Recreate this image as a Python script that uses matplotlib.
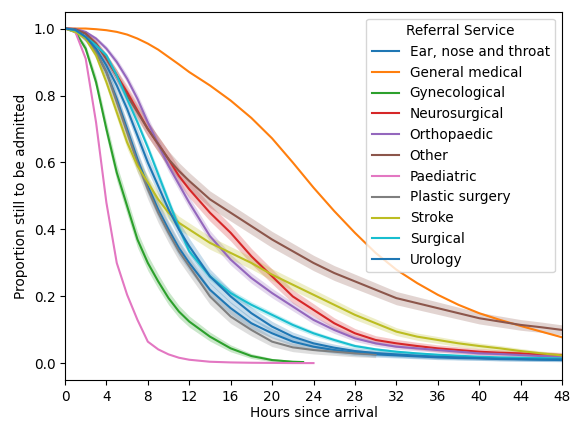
import numpy as np
import matplotlib
matplotlib.use("Agg")
import matplotlib.pyplot as plt

# ---- data ----
hours_full = [0, 1, 2, 3, 4, 5, 6, 7, 8, 9, 10, 11, 12, 14, 16, 18, 20, 22, 24,
              26, 28, 30, 32, 34, 36, 38, 40, 42, 44, 46, 48]
hours_paed = [0, 1, 2, 3, 4, 5, 6, 7, 8, 9, 10, 11, 12, 14, 16, 18, 20, 22, 24]
hours_gyn = [0, 1, 2, 3, 4, 5, 6, 7, 8, 9, 10, 11, 12, 14, 16, 18, 20, 22, 23]
hours_plastic = [0, 1, 2, 3, 4, 5, 6, 7, 8, 9, 10, 11, 12, 14, 16, 18, 20, 22, 24,
                 26, 28, 30]

ent = [1.0, 0.995, 0.97, 0.93, 0.87, 0.79, 0.70, 0.61, 0.53, 0.46, 0.40, 0.345, 0.30,
       0.22, 0.165, 0.12, 0.09, 0.065, 0.05, 0.04, 0.032, 0.027, 0.024, 0.021, 0.018,
       0.016, 0.015, 0.013, 0.012, 0.011, 0.010]
general_medical = [1.0, 1.0, 1.0, 0.998, 0.995, 0.99, 0.982, 0.97, 0.955, 0.937, 0.915,
                   0.893, 0.87, 0.83, 0.785, 0.733, 0.672, 0.60, 0.525, 0.455, 0.39,
                   0.33, 0.28, 0.24, 0.205, 0.175, 0.15, 0.13, 0.112, 0.095, 0.078]
gynecological = [1.0, 0.99, 0.94, 0.84, 0.70, 0.57, 0.47, 0.37, 0.30, 0.245, 0.195,
                 0.155, 0.125, 0.08, 0.045, 0.022, 0.010, 0.005, 0.004]
neurosurgical = [1.0, 0.998, 0.985, 0.955, 0.91, 0.86, 0.81, 0.755, 0.70, 0.655, 0.61,
                 0.56, 0.52, 0.45, 0.39, 0.32, 0.26, 0.20, 0.16, 0.12, 0.09, 0.07,
                 0.06, 0.052, 0.045, 0.04, 0.035, 0.032, 0.03, 0.027, 0.025]
orthopaedic = [1.0, 0.999, 0.99, 0.97, 0.94, 0.90, 0.85, 0.79, 0.72, 0.655, 0.59,
               0.535, 0.48, 0.38, 0.31, 0.255, 0.21, 0.17, 0.13, 0.10, 0.075, 0.06,
               0.05, 0.045, 0.04, 0.035, 0.03, 0.028, 0.025, 0.022, 0.02]
other = [1.0, 0.998, 0.985, 0.955, 0.91, 0.86, 0.80, 0.75, 0.70, 0.655, 0.61, 0.575,
         0.545, 0.49, 0.45, 0.41, 0.37, 0.335, 0.30, 0.27, 0.245, 0.22, 0.195, 0.18,
         0.165, 0.15, 0.135, 0.125, 0.115, 0.108, 0.10]
paediatric = [1.0, 0.99, 0.91, 0.72, 0.48, 0.30, 0.205, 0.13, 0.065, 0.042, 0.027,
              0.017, 0.011, 0.005, 0.003, 0.002, 0.0015, 0.001, 0.001]
plastic_surgery = [1.0, 0.995, 0.97, 0.93, 0.87, 0.78, 0.69, 0.60, 0.52, 0.45, 0.39,
                   0.335, 0.29, 0.20, 0.14, 0.10, 0.065, 0.048, 0.04, 0.035, 0.03, 0.027]
stroke = [1.0, 0.99, 0.97, 0.92, 0.84, 0.75, 0.66, 0.59, 0.54, 0.49, 0.45, 0.42, 0.40,
          0.36, 0.33, 0.30, 0.265, 0.235, 0.205, 0.175, 0.145, 0.12, 0.095, 0.08,
          0.07, 0.06, 0.052, 0.045, 0.037, 0.03, 0.024]
surgical = [1.0, 0.995, 0.975, 0.95, 0.92, 0.86, 0.79, 0.72, 0.645, 0.565, 0.485,
            0.405, 0.335, 0.26, 0.21, 0.175, 0.145, 0.115, 0.09, 0.07, 0.052, 0.042,
            0.035, 0.03, 0.026, 0.023, 0.02, 0.018, 0.017, 0.016, 0.015]
urology = [1.0, 0.996, 0.975, 0.94, 0.89, 0.83, 0.76, 0.68, 0.60, 0.53, 0.46, 0.40,
           0.35, 0.26, 0.20, 0.15, 0.11, 0.08, 0.06, 0.047, 0.037, 0.031, 0.027,
           0.023, 0.02, 0.018, 0.016, 0.014, 0.013, 0.012, 0.012]

labels = ["Ear, nose and throat", "General medical", "Gynecological", "Neurosurgical",
          "Orthopaedic", "Other", "Paediatric", "Plastic surgery", "Stroke",
          "Surgical", "Urology"]
series = [(hours_full, ent), (hours_full, general_medical), (hours_gyn, gynecological),
          (hours_full, neurosurgical), (hours_full, orthopaedic), (hours_full, other),
          (hours_paed, paediatric), (hours_plastic, plastic_surgery),
          (hours_full, stroke), (hours_full, surgical), (hours_full, urology)]
ci_scale = [0.05, 0.004, 0.05, 0.05, 0.035, 0.05, 0.004, 0.06, 0.04, 0.025, 0.05]

x_ticks = list(range(0, 49, 4))

# ---- plot ----
plt.rcParams['font.family'] = ['DejaVu Sans']
plt.rcParams['font.size'] = 9.8
fig = plt.figure(figsize=(5.7, 4.21), dpi=100)
ax = fig.add_axes([0.114, 0.097, 0.872, 0.875])

colors = plt.rcParams['axes.prop_cycle'].by_key()['color']
for i, ((t, p), lab, k) in enumerate(zip(series, labels, ci_scale)):
    c = colors[i % len(colors)]
    t = np.asarray(t, float)
    p = np.asarray(p, float)
    hw = k * np.sqrt(p * (1 - p))
    ax.fill_between(t, np.clip(p - hw, 0, 1), np.clip(p + hw, 0, 1), color=c,
                    alpha=0.25, linewidth=0)
    ax.plot(t, p, color=c, lw=1.5, label=lab)

ax.set_xlim(0, 48)
ax.set_ylim(-0.05, 1.05)
ax.set_xticks(x_ticks)
ax.set_yticks([0.0, 0.2, 0.4, 0.6, 0.8, 1.0])
ax.set_xlabel("Hours since arrival", labelpad=1.5)
ax.set_ylabel("Proportion still to be admitted")
ax.legend(title="Referral Service", loc="upper right", fontsize=9.8,
          title_fontsize=9.8)

fig.savefig("out.png", dpi=100)
